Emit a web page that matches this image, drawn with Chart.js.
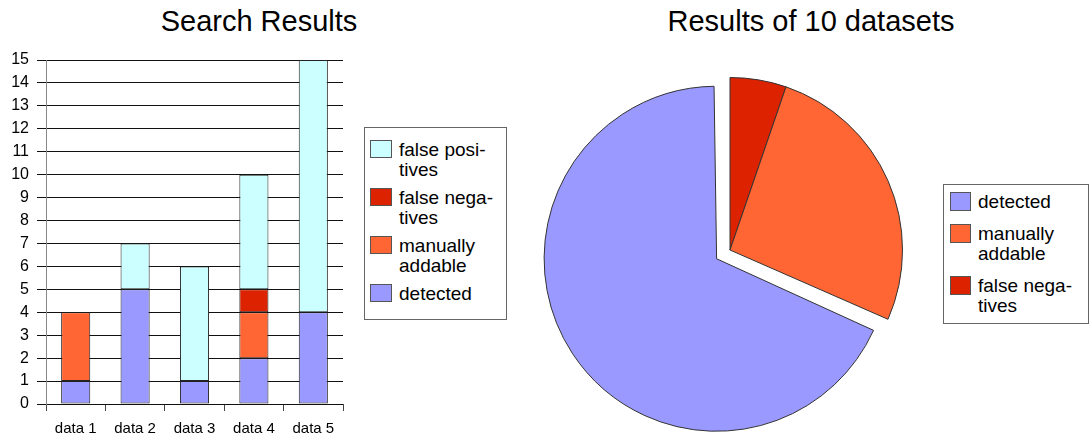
<!DOCTYPE html>
<html>
<head>
<meta charset="utf-8">
<script src="https://cdn.jsdelivr.net/npm/chart.js@4/dist/chart.umd.min.js"></script>
<style>
  html, body { margin: 0; padding: 0; background: #fff; }
  body { width: 1089px; height: 436px; position: relative; overflow: hidden; font-family: "Liberation Sans", Arial, sans-serif; }
  canvas { position: absolute; }
  .title { position: absolute; font-size: 29px; line-height: 29px; color: #000; white-space: nowrap; transform: translateX(-50%); }
  .legend { position: absolute; border: 1px solid #666; background: #fff; box-sizing: border-box; font-size: 19px; color: #000; }
  .item { display: flex; align-items: flex-start; }
  .sw { flex: none; border: 1px solid #555; box-sizing: border-box; }
  .txt { line-height: 20px; white-space: nowrap; }
</style>
</head>
<body>
<div class="title" id="t1" style="left:259px; top:7px;"></div>
<div class="title" id="t2" style="left:811px; top:7px;"></div>
<canvas id="bar" width="360" height="436" style="left:0; top:0; width:360px; height:436px;"></canvas>
<canvas id="pie" width="430" height="430" style="left:515px; top:35px; width:430px; height:430px;"></canvas>
<div class="legend" id="leg1" style="left:364px; top:127px; width:143px; height:193px; padding:12px 0 0 5px;"></div>
<div class="legend" id="leg2" style="left:943px; top:184px; width:146px; height:140px; padding:7px 0 0 6px;"></div>
<script>
// ---- data ----
const barTitle = 'Search Results';
const pieTitle = 'Results of 10 datasets';
const categories = ['data 1', 'data 2', 'data 3', 'data 4', 'data 5'];
const detected = [1, 5, 1, 2, 4];
const manuallyAddable = [3, 0, 0, 2, 0];
const falseNegatives = [0, 0, 0, 1, 0];
const falsePositives = [0, 2, 5, 5, 11];
const yMin = 0, yMax = 15, yStep = 1;
const pieLabels = ['false negatives', 'manually addable', 'detected'];
const pieValues = [1, 5, 13];
const pieOffsets = [0, 0, 64];
const legendLines = {
  'false positives': ['false posi-', 'tives'],
  'false negatives': ['false nega-', 'tives'],
  'manually addable': ['manually', 'addable'],
  'detected': ['detected']
};
const colors = {
  'detected': '#9999ff',
  'manually addable': '#ff6633',
  'false negatives': '#dd2200',
  'false positives': '#ccffff'
};

document.getElementById('t1').textContent = barTitle;
document.getElementById('t2').textContent = pieTitle;

const barSeries = [
  ['detected', detected],
  ['manually addable', manuallyAddable],
  ['false negatives', falseNegatives],
  ['false positives', falsePositives]
];

new Chart(document.getElementById('bar'), {
  type: 'bar',
  data: {
    labels: categories,
    datasets: barSeries.map(([name, vals]) => ({
      label: name,
      data: vals,
      backgroundColor: colors[name],
      borderColor: '#222',
      borderWidth: 1,
      borderSkipped: false,
      categoryPercentage: 1,
      barPercentage: 0.49
    }))
  },
  options: {
    responsive: false,
    devicePixelRatio: 1,
    animation: false,
    layout: { padding: { left: 0, right: 17, top: 60, bottom: 0 } },
    plugins: { legend: { display: false }, title: { display: false }, tooltip: { enabled: false } },
    scales: {
      x: {
        stacked: true,
        grid: { offset: true, drawOnChartArea: false, tickLength: 7, color: '#444' },
        border: { display: false },
        ticks: { padding: 9, color: '#000', font: { family: 'Liberation Sans', size: 15 } },
        afterFit: s => { s.height = 32; }
      },
      y: {
        stacked: true,
        min: yMin, max: yMax,
        grid: { color: '#111', tickLength: 9 },
        border: { color: '#888' },
        ticks: { stepSize: yStep, padding: 8, color: '#000', font: { family: 'Liberation Sans', size: 16 } },
        afterFit: s => { s.width = 46; }
      }
    }
  }
});

// Chart.js enlarges an exploded slice's radius; keep it equal to the others.
const keepExplodedRadius = {
  id: 'keepExplodedRadius',
  beforeDatasetsDraw(chart) {
    const meta = chart.getDatasetMeta(0);
    const baseR = meta.controller.outerRadius;
    meta.data.forEach(arc => {
      const o = (arc.options.offset || 0) / 4;
      const fix = 1 - Math.sin(Math.min(Math.PI, arc.circumference || 0));
      arc.outerRadius = baseR - o * fix;
    });
  }
};

new Chart(document.getElementById('pie'), {
  type: 'pie',
  data: {
    labels: pieLabels,
    datasets: [{
      data: pieValues,
      backgroundColor: pieLabels.map(n => colors[n]),
      borderColor: '#333',
      borderWidth: 1,
      offset: pieOffsets,
      hoverOffset: 0
    }]
  },
  options: {
    responsive: false,
    devicePixelRatio: 1,
    animation: false,
    layout: { padding: 10 },
    plugins: { legend: { display: false }, title: { display: false }, tooltip: { enabled: false } }
  },
  plugins: [keepExplodedRadius]
});

function buildLegend(el, names, sw, gap, textLeft) {
  names.forEach((n, i) => {
    const it = document.createElement('div');
    it.className = 'item';
    if (i > 0) it.style.marginTop = gap + 'px';
    const s = document.createElement('div');
    s.className = 'sw';
    s.style.width = sw[0] + 'px';
    s.style.height = sw[1] + 'px';
    s.style.background = colors[n];
    const t = document.createElement('div');
    t.className = 'txt';
    t.style.marginLeft = textLeft + 'px';
    t.innerHTML = legendLines[n].map(l => '<div>' + l + '</div>').join('');
    it.appendChild(s); it.appendChild(t);
    el.appendChild(it);
  });
}
buildLegend(document.getElementById('leg1'), barSeries.map(d => d[0]).reverse(), [22, 18], 8, 7);
buildLegend(document.getElementById('leg2'), ['detected', 'manually addable', 'false negatives'], [21, 19], 12, 7);
</script>
</body>
</html>
